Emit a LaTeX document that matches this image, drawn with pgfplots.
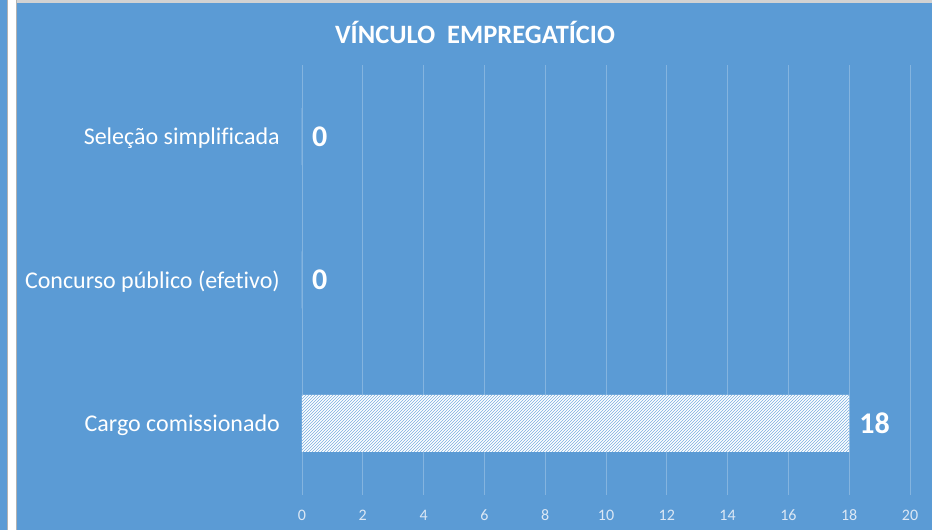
\documentclass[border=0pt]{standalone}
\usepackage{pgfplots}
\pgfplotsset{compat=1.18}
\usepackage{fontspec}
\setmainfont{Carlito}[Ligatures=CommonOff]
\usetikzlibrary{patterns}
\definecolor{bg}{HTML}{5B9BD5}
\definecolor{hatch}{HTML}{79AEE0}
\definecolor{ticklab}{HTML}{DCE8F5}
\begin{document}
\begin{tikzpicture}
\useasboundingbox (0,0) rectangle (932pt,530pt);
\fill[bg] (0,0) rectangle (932pt,530pt);
\fill[white] (7pt,0) rectangle (17pt,530pt);
\draw[gray!60, line width=0.8pt] (7.4pt,0) -- (7.4pt,530pt);
\draw[gray!60, line width=0.8pt] (16.6pt,0) -- (16.6pt,530pt);
\fill[gray!35] (17pt,527pt) rectangle (932pt,530pt);
\node[text=white, font=\fontsize{26.5}{30}\selectfont\bfseries] at (475pt,498pt) {VÍNCULO\ \ EMPREGATÍCIO};
\begin{axis}[
  at={(302pt,35pt)}, anchor=south west,
  scale only axis, width=608pt, height=430pt,
  xbar, bar width=57pt,
  xmin=0, xmax=20, ymin=-0.5, ymax=2.5,
  ytick={0,1,2},
  yticklabels={Cargo comissionado, Concurso público (efetivo), Seleção simplificada},
  xtick={0,2,...,20},
  xticklabels={0,2,4,6,8,10,12,14,16,18,20},
  xmajorgrids,
  grid style={white, opacity=0.25, line width=0.8pt},
  axis line style={draw=none},
  major tick length=0pt,
  /pgf/number format/assume math mode=true,
  xticklabel style={text=ticklab, font=\fontsize{16}{18}\selectfont, inner sep=0pt, anchor=base, yshift=-26pt},
  yticklabel style={text=white, font=\fontsize{24}{26}\selectfont, inner sep=0pt, xshift=-22pt, yshift=-2pt},
  nodes near coords,
  nodes near coords style={text=white, font=\fontsize{30}{32}\selectfont\bfseries, inner sep=0pt, anchor=west, xshift=10pt},
]
\addplot[draw=none, fill=white, postaction={pattern=north east lines, pattern color=hatch}] coordinates {(18,0) (0,1) (0,2)};
\end{axis}
\end{tikzpicture}
\end{document}
